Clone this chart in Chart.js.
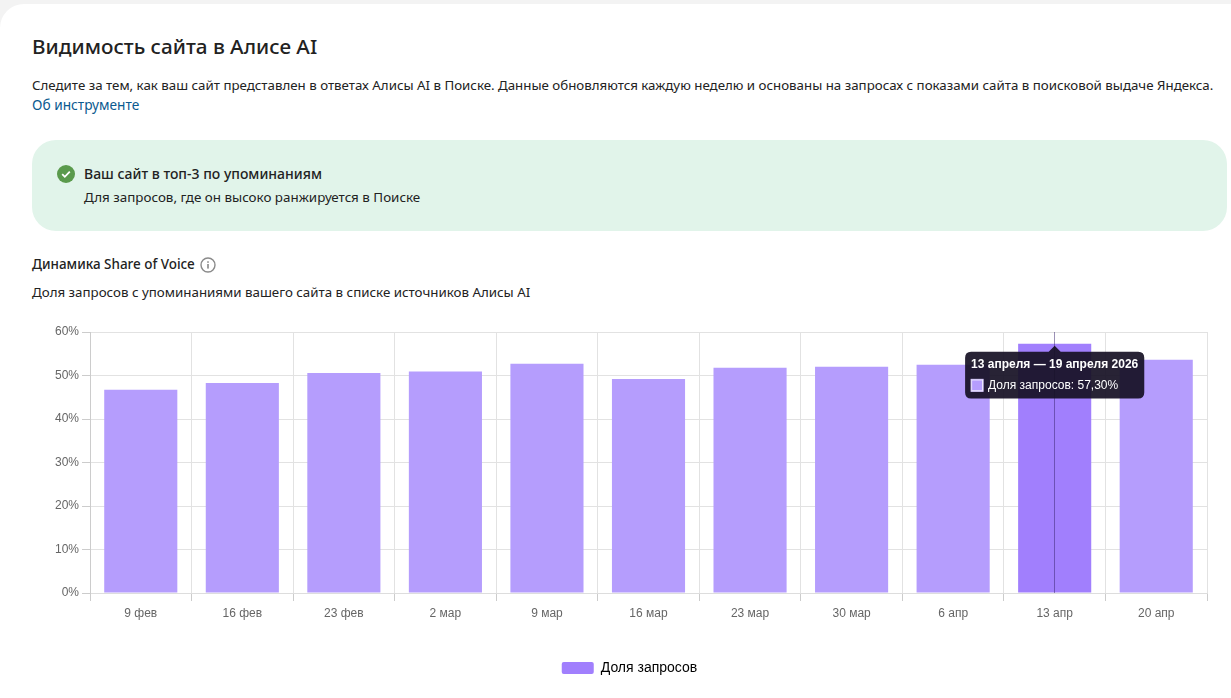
<!DOCTYPE html>
<html lang="ru"><head><meta charset="utf-8">
<script src="https://cdn.jsdelivr.net/npm/chart.js@4"></script>
<style>
html,body{margin:0;padding:0;width:1231px;height:698px;overflow:hidden;background:#f3f3f3;font-family:"Noto Sans",sans-serif;color:#222}
#card{position:absolute;left:0;top:4px;width:1231px;height:694px;background:#fff;border-top-left-radius:24px}
.t{position:absolute;white-space:nowrap}
#banner{position:absolute;left:32px;top:140px;width:1195px;height:91px;background:#e1f4ea;border-radius:24px}
#wrap{position:absolute;left:0;top:320px;width:1231px;height:378px}
</style></head><body>
<div id="card"></div>
<div class="t" style="left:32px;top:32px;font-size:20.7px;font-weight:500;line-height:28px">Видимость сайта в Алисе AI</div>
<div class="t" style="left:32px;top:76px;font-size:13.3px;line-height:18px">Следите за тем, как ваш сайт представлен в ответах Алисы AI в Поиске. Данные обновляются каждую неделю и основаны на запросах с показами сайта в поисковой выдаче Яндекса.</div>
<div class="t" style="left:32px;top:96px;font-size:13.7px;line-height:18px;color:#0b5a8f">Об инструменте</div>
<div id="banner"></div>
<svg class="t" style="left:57px;top:165px" width="18" height="18" viewBox="0 0 18 18"><circle cx="9" cy="9" r="9" fill="#5a9a4c"/><path d="M5.2 9.2l2.6 2.6 5-5.2" fill="none" stroke="#fff" stroke-width="1.8"/></svg>
<div class="t" style="left:84px;top:165px;font-size:14px;font-weight:500;line-height:18px">Ваш сайт в топ-3 по упоминаниям</div>
<div class="t" style="left:84px;top:188px;font-size:13.4px;line-height:18px">Для запросов, где он высоко ранжируется в Поиске</div>
<div class="t" style="left:32px;top:255px;font-size:13.45px;font-weight:500;line-height:18px">Динамика Share of Voice</div>
<svg class="t" style="left:200px;top:257px" width="16" height="16" viewBox="0 0 16 16"><circle cx="8" cy="8" r="7" fill="none" stroke="#8a8a8a" stroke-width="1.4"/><rect x="7.3" y="7" width="1.4" height="4.6" fill="#777"/><rect x="7.3" y="4.3" width="1.4" height="1.5" fill="#777"/></svg>
<div class="t" style="left:32px;top:283px;font-size:13.33px;line-height:18px">Доля запросов с упоминаниями вашего сайта в списке источников Алисы AI</div>
<div id="wrap"><canvas id="c" width="1231" height="378"></canvas></div>
<script>
const categories=["9 фев","16 фев","23 фев","2 мар","9 мар","16 мар","23 мар","30 мар","6 апр","13 апр","20 апр"];
const shareValues=[46.7,48.3,50.6,50.9,52.7,49.2,51.8,52.0,52.5,57.3,53.6];
const seriesName="Доля запросов";
const activeIndex=9;
const activeTitle="13 апреля — 19 апреля 2026";
const barColor="#b59dfd", activeColor="#a17ffd";

Chart.Tooltip.positioners.underBarTop=function(items){
  if(!items.length) return false;
  return {x:items[0].element.x,y:items[0].element.y};
};
const crosshair={id:"crosshair",afterDatasetsDraw(ch){
  const {ctx,chartArea:a}=ch, el=ch.getDatasetMeta(0).data[activeIndex];
  ctx.save();ctx.strokeStyle="rgba(55,35,110,.5)";ctx.lineWidth=1;ctx.beginPath();
  const x=Math.floor(el.x)+.5;ctx.moveTo(x,a.top);ctx.lineTo(x,a.bottom);ctx.stroke();ctx.restore();
}};
Chart.defaults.font.family='"Liberation Sans",Arial,sans-serif';
const chart=new Chart(document.getElementById("c"),{
  type:"bar",
  data:{labels:categories,datasets:[{label:seriesName,data:shareValues,
    backgroundColor:categories.map((_,i)=>i===activeIndex?activeColor:barColor),
    hoverBackgroundColor:categories.map((_,i)=>i===activeIndex?activeColor:barColor),
    barPercentage:.72,categoryPercentage:1}]},
  plugins:[crosshair],
  options:{responsive:false,animation:false,events:[],
    layout:{padding:{top:12,right:24,left:52,bottom:13}},
    scales:{
      x:{grid:{color:"#e2e2e2",tickLength:8,tickColor:"#ccc",offset:true},border:{color:"#ddd"},
        ticks:{color:"#666",font:{size:12},padding:5,maxRotation:0},
        afterFit(s){s.height=60}},
      y:{min:0,max:60,grid:{color:"#e2e2e2",tickLength:8,tickColor:"#ccc"},border:{color:"#ccc"},
        ticks:{stepSize:10,color:"#666",font:{size:12},padding:3,callback:v=>v+"%"},
        afterFit(s){s.width=38}}
    },
    plugins:{
      legend:{position:"bottom",labels:{boxWidth:32,boxHeight:12,color:"#333",font:{size:14},padding:8,useBorderRadius:true,borderRadius:2,
        generateLabels(ch){return [{text:seriesName,fillStyle:activeColor,strokeStyle:activeColor,lineWidth:0,datasetIndex:0,borderRadius:2}];}}},
      tooltip:{enabled:true,position:"underBarTop",yAlign:"top",xAlign:"center",
        backgroundColor:"rgba(22,16,36,.92)",cornerRadius:6,caretSize:6,padding:{x:6,y:6},
        titleColor:"#fff",titleFont:{size:12,weight:"bold"},titleMarginBottom:6,
        bodyColor:"#fff",bodyFont:{size:12},boxWidth:12,boxHeight:12,boxPadding:3,displayColors:true,
        callbacks:{title:()=>activeTitle,
          label:c=>c.dataset.label+": "+c.parsed.y.toFixed(2).replace(".",",")+"%",
          labelColor:()=>({backgroundColor:barColor,borderColor:"#d9ccff",borderWidth:1})}}
    }}
});
chart.setActiveElements([{datasetIndex:0,index:activeIndex}]);
chart.tooltip.setActiveElements([{datasetIndex:0,index:activeIndex}],{x:0,y:0});
chart.update();
</script></body></html>
